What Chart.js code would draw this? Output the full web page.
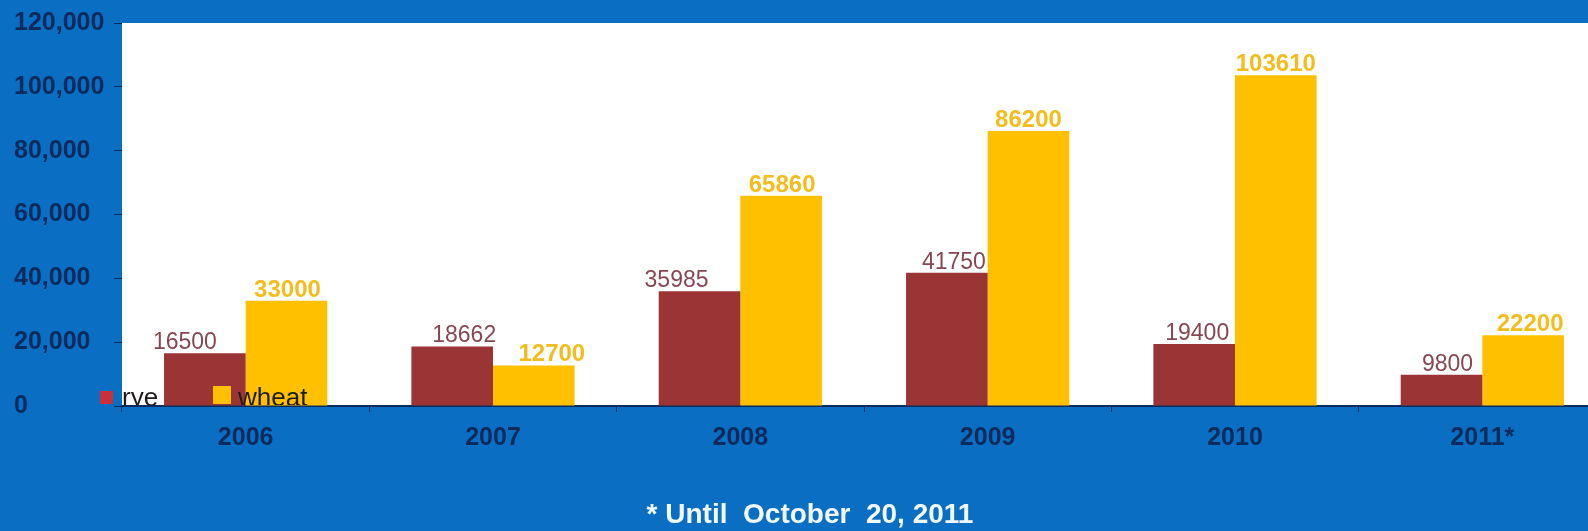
<!DOCTYPE html>
<html>
<head>
<meta charset="utf-8">
<script src="https://cdn.jsdelivr.net/npm/chart.js@4/dist/chart.umd.min.js"></script>
<style>
  html, body { margin: 0; padding: 0; background: #0a6fc2; overflow: hidden; }
  #wrap { position: absolute; left: 0; top: 0; width: 1606px; height: 531px; }
</style>
</head>
<body>
<div id="wrap"><canvas id="c" width="1606" height="531"></canvas></div>
<script>
// Harvest by year (tonnes)
const years = ['2006', '2007', '2008', '2009', '2010', '2011*'];
const rye = [16500, 18662, 35985, 41750, 19400, 9800];
const wheat = [33000, 12700, 65860, 86200, 103610, 22200];
const yTickLabels = ['0', '20,000', '40,000', '60,000', '80,000', '100,000', '120,000'];
const footnote = '* Until  October  20, 2011';

const NAVY = '#0c2a5c';
const FONT = '"Liberation Sans", Arial, sans-serif';

// white plotting area over the blue page
const plotBackground = {
  id: 'plotBackground',
  beforeDraw(chart) {
    const { ctx, chartArea: a } = chart;
    ctx.save();
    ctx.fillStyle = '#ffffff';
    ctx.fillRect(a.left, a.top, a.right - a.left, a.bottom - a.top);
    ctx.restore();
  }
};

// value printed above each bar; nudge shifts a label sideways (px)
const barValues = {
  id: 'barValues',
  afterDatasetsDraw(chart, args, opts) {
    const { ctx } = chart;
    chart.data.datasets.forEach((ds, i) => {
      const st = opts.styles[i];
      const meta = chart.getDatasetMeta(i);
      ctx.save();
      ctx.font = st.font;
      ctx.fillStyle = st.color;
      ctx.textAlign = 'center';
      ctx.textBaseline = 'alphabetic';
      meta.data.forEach((bar, j) => {
        ctx.fillText(String(ds.data[j]), bar.x + st.nudge[j], bar.y - 4);
      });
      ctx.restore();
    });
  }
};

// series key tucked into the lower-left corner of the plot
const cornerLegend = {
  id: 'cornerLegend',
  afterDatasetsDraw(chart) {
    const { ctx, chartArea: a } = chart;
    const items = [
      { x: 100, box: 13, swatch: '#c8303c', textX: 122 },
      { x: 213, box: 18, swatch: '#ffc000', textX: 238 }
    ];
    ctx.save();
    ctx.beginPath();
    ctx.rect(0, 0, chart.width, a.bottom - 1);
    ctx.clip();
    ctx.font = '26px ' + FONT;
    ctx.textBaseline = 'alphabetic';
    ctx.textAlign = 'left';
    chart.data.datasets.forEach((ds, i) => {
      const it = items[i];
      ctx.fillStyle = it.swatch;
      ctx.fillRect(it.x, a.bottom - 2 - it.box, it.box, it.box);
      ctx.fillStyle = '#1e1a1a';
      ctx.fillText(ds.label, it.textX, a.bottom);
    });
    ctx.restore();
  }
};

new Chart(document.getElementById('c'), {
  type: 'bar',
  data: {
    labels: years,
    datasets: [
      { label: 'rye', data: rye, backgroundColor: '#9b3535' },
      { label: 'wheat', data: wheat, backgroundColor: '#ffc000' }
    ]
  },
  options: {
    responsive: false,
    animation: false,
    layout: { padding: { top: 23, right: 0, left: 14, bottom: 0 } },
    datasets: { bar: { categoryPercentage: 0.66, barPercentage: 1.0 } },
    plugins: {
      legend: { display: false },
      tooltip: { enabled: false },
      title: {
        display: true,
        position: 'bottom',
        text: footnote,
        color: '#f2f8ff',
        font: { family: FONT, size: 28, weight: 'bold', lineHeight: 1.1 },
        padding: { top: 0, bottom: 0 }
      },
      barValues: {
        styles: [
          { font: '23px ' + FONT, color: '#874753', nudge: [-20, 12, -23, 7, 3, 6] },
          { font: 'bold 24px ' + FONT, color: '#f2bd1d', nudge: [1, 18, 1, 0, 0, 7] }
        ]
      }
    },
    scales: {
      x: {
        afterFit(scale) { scale.height = 94.2; },
        border: { display: true, color: NAVY, width: 2 },
        grid: { display: true, drawOnChartArea: false, drawTicks: true, tickLength: 6, color: NAVY, offset: true },
        ticks: { color: NAVY, font: { family: FONT, size: 25, weight: 'bold' }, padding: 11, maxRotation: 0 }
      },
      y: {
        min: 0,
        max: 120000,
        afterFit(scale) { scale.width = 108; },
        border: { display: false },
        grid: { display: true, drawOnChartArea: false, drawTicks: true, tickLength: 8, color: NAVY },
        ticks: {
          stepSize: 20000,
          color: NAVY,
          padding: 4,
          crossAlign: 'far',
          font: { family: FONT, size: 25, weight: 'bold' },
          callback: (v, i) => yTickLabels[i]
        }
      }
    }
  },
  plugins: [plotBackground, barValues, cornerLegend]
});
</script>
</body>
</html>
